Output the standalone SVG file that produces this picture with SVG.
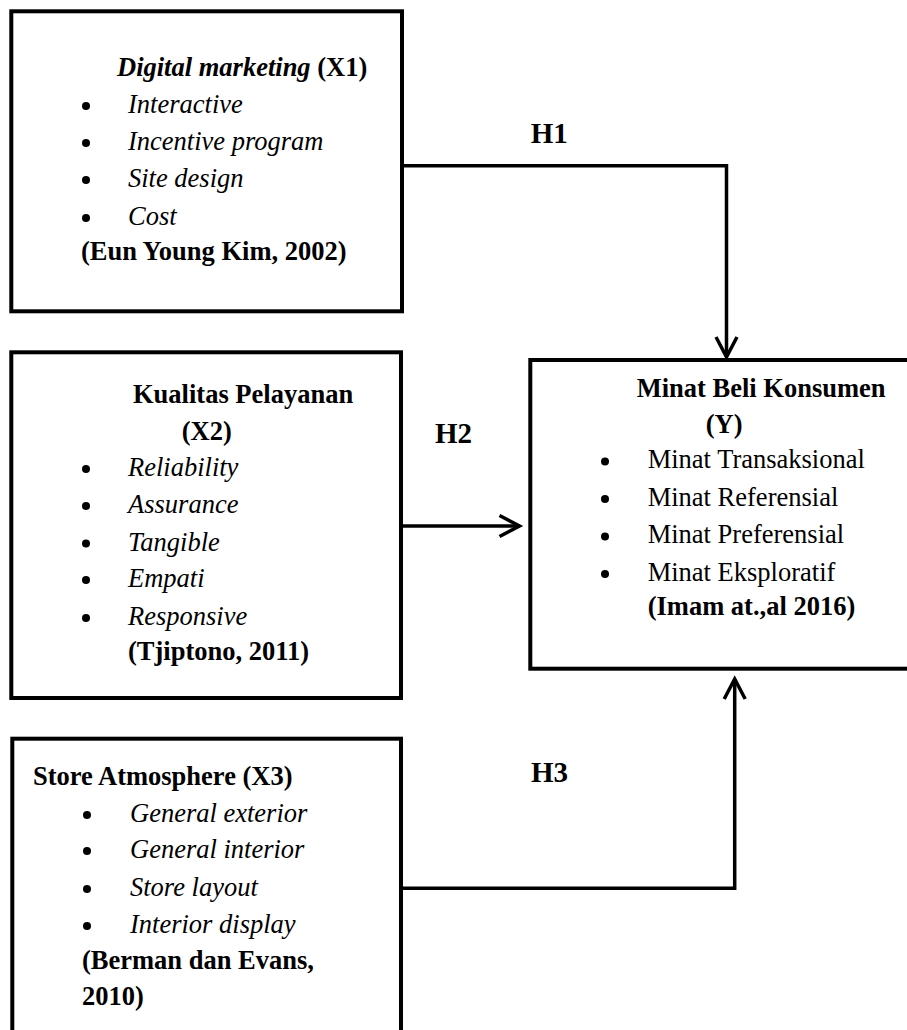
<svg xmlns="http://www.w3.org/2000/svg" width="907" height="1030" viewBox="0 0 907 1030">
<style>
  .box { fill: #fff; stroke: #000; stroke-width: 4; }
  .t { font-family: "Liberation Serif", "Times New Roman", serif; font-size: 26.5px; fill: #000; }
  .b { font-weight: bold; }
  .i { font-style: italic; }
  .h { font-family: "Liberation Serif", "Times New Roman", serif; font-size: 29px; font-weight: bold; fill: #000; }
  .dot { fill: #000; }
  .conn { fill: none; stroke: #000; stroke-width: 3.5; }
</style>
<defs>
  <marker id="arr" markerUnits="userSpaceOnUse" markerWidth="40" markerHeight="40" viewBox="-30 -20 40 40" refX="0" refY="0" orient="auto" overflow="visible">
    <path d="M-20,-10.5 L0,0 L-20,10.5" fill="none" stroke="#000" stroke-width="3.5"/>
  </marker>
</defs>
<rect width="907" height="1030" fill="#fff"/>

<g id="x1">
  <rect class="box" x="11.3" y="11.3" width="390.7" height="300"/>
  <text class="t b" x="117" y="76"><tspan class="i">Digital marketing</tspan> (X1)</text>
  <circle class="dot" cx="86" cy="106" r="4"/>
  <text class="t i" x="128" y="113">Interactive</text>
  <circle class="dot" cx="86" cy="143" r="4"/>
  <text class="t i" x="128" y="150">Incentive program</text>
  <circle class="dot" cx="86" cy="180" r="4"/>
  <text class="t i" x="128" y="187">Site design</text>
  <circle class="dot" cx="86" cy="218" r="4"/>
  <text class="t i" x="128" y="225">Cost</text>
  <text class="t b" x="81" y="260">(Eun Young Kim, 2002)</text>
</g>

<g id="x2">
  <rect class="box" x="11.3" y="352.3" width="389.7" height="345.7"/>
  <text class="t b" x="133" y="403">Kualitas Pelayanan</text>
  <text class="t b" x="181.7" y="440">(X2)</text>
  <circle class="dot" cx="86" cy="469" r="4"/>
  <text class="t i" x="128" y="476">Reliability</text>
  <circle class="dot" cx="86" cy="506" r="4"/>
  <text class="t i" x="128" y="513">Assurance</text>
  <circle class="dot" cx="86" cy="543.5" r="4"/>
  <text class="t i" x="128" y="550.5">Tangible</text>
  <circle class="dot" cx="86" cy="580" r="4"/>
  <text class="t i" x="128" y="587">Empati</text>
  <circle class="dot" cx="86" cy="618" r="4"/>
  <text class="t i" x="128" y="625">Responsive</text>
  <text class="t b" x="128" y="660">(Tjiptono, 2011)</text>
</g>

<g id="x3">
  <rect class="box" x="12.3" y="738.7" width="388.7" height="320"/>
  <text class="t b" x="33" y="785">Store Atmosphere (X3)</text>
  <circle class="dot" cx="87" cy="815" r="4"/>
  <text class="t i" x="130" y="822">General exterior</text>
  <circle class="dot" cx="87" cy="851" r="4"/>
  <text class="t i" x="130" y="858">General interior</text>
  <circle class="dot" cx="87" cy="889" r="4"/>
  <text class="t i" x="130" y="896">Store layout</text>
  <circle class="dot" cx="87" cy="926" r="4"/>
  <text class="t i" x="130" y="933">Interior display</text>
  <text class="t b" x="82" y="969">(Berman dan Evans,</text>
  <text class="t b" x="82" y="1005">2010)</text>
</g>

<g id="y">
  <rect class="box" x="530.3" y="360" width="400" height="308.7"/>
  <text class="t b" x="636.7" y="396.7">Minat Beli Konsumen</text>
  <text class="t b" x="705.7" y="433.3">(Y)</text>
  <circle class="dot" cx="605" cy="461.5" r="4"/>
  <text class="t" x="647.7" y="468.3">Minat Transaksional</text>
  <circle class="dot" cx="605" cy="499" r="4"/>
  <text class="t" x="647.7" y="505.7">Minat Referensial</text>
  <circle class="dot" cx="605" cy="536.5" r="4"/>
  <text class="t" x="647.7" y="543.3">Minat Preferensial</text>
  <circle class="dot" cx="605" cy="574" r="4"/>
  <text class="t" x="647.7" y="580.7">Minat Eksploratif</text>
  <text class="t b" x="647.7" y="615">(Imam at.,al 2016)</text>
</g>

<g id="connectors">
  <path class="conn" d="M402 165.7 H726.5 V357" marker-end="url(#arr)"/>
  <path class="conn" d="M401 526 H519.5" marker-end="url(#arr)"/>
  <path class="conn" d="M401 888.3 H734.7 V679" marker-end="url(#arr)"/>
  <text class="h" x="530.7" y="143">H1</text>
  <text class="h" x="435" y="443.3">H2</text>
  <text class="h" x="531" y="782">H3</text>
</g>
</svg>
